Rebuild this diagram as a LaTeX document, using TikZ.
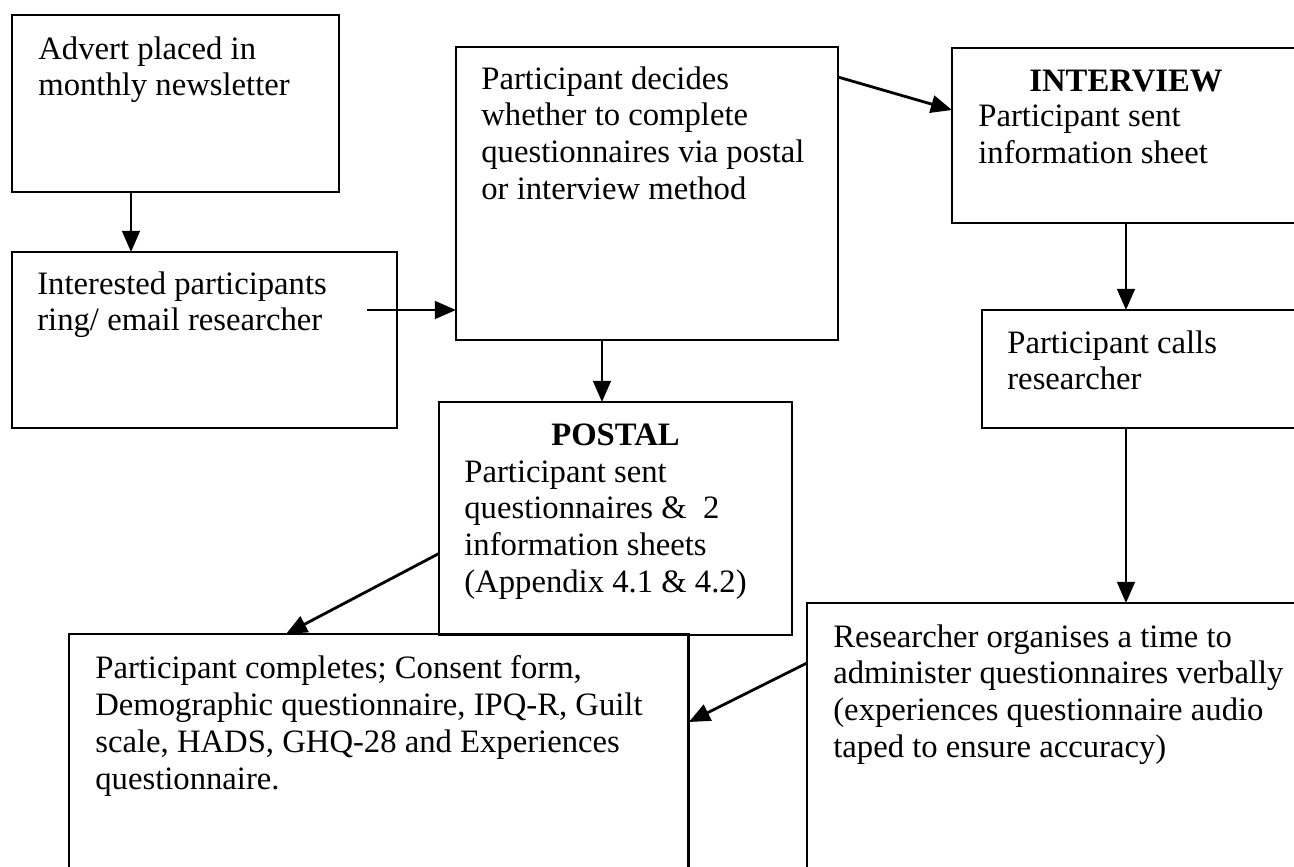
\documentclass[tikz,border=0pt]{standalone}
\usepackage{fontspec}
\setmainfont{Liberation Serif}
\usetikzlibrary{arrows.meta}
\tikzset{
    every node/.style={align=left,},
    stage/.style={draw,rectangle,line width=1.6pt,inner sep=0pt,outer sep=0pt,anchor=north west,},
    caption/.style={inner sep=0pt,anchor=north west,font=\fontsize{18.6}{21}\selectfont,},
    heading/.style={inner sep=0pt,anchor=base,font=\fontsize{18.6}{21}\selectfont\bfseries,},
    arr/.style={-{Triangle[length=12pt,width=10pt]},line width=1.6pt,},
}

\begin{document}
\begin{tikzpicture}[x=0.02cm,y=-0.02cm]
                \useasboundingbox (0,0) rectangle (1294,866);
                \clip (0,0) rectangle (1294,866);

                % boxes
                \node[stage,minimum width=6.54cm,minimum height=3.54cm] (advert) at (12,15) {};
                \node[stage,minimum width=7.70cm,minimum height=3.52cm] (ring) at (12,252) {};
                \node[stage,minimum width=7.64cm,minimum height=5.86cm] (decide) at (456,47) {};
                \node[stage,minimum width=6.96cm,minimum height=3.50cm] (interview) at (952,48) {};
                \node[stage,minimum width=6.36cm,minimum height=2.36cm] (calls) at (982,310) {};
                \node[stage,minimum width=7.06cm,minimum height=4.66cm] (postal) at (439,402) {};
                \node[stage,minimum width=12.40cm,minimum height=5.32cm] (complete) at (69,634) {};
                \node[stage,minimum width=10.06cm,minimum height=5.94cm] (organise) at (807,603) {};

                % texts
                \node[caption] (advert-txt) at ([shift={(26,21)}]advert.north west) {Advert placed in\\monthly newsletter};
                \node[caption] (ring-txt) at ([shift={(25,19)}]ring.north west) {Interested participants\\ring/ email researcher};
                \node[caption] (decide-txt) at ([shift={(25,19)}]decide.north west) {Participant decides\\whether to complete\\questionnaires via postal\\or interview method};
                \node[heading] (interview-hd) at ([shift={(0,43)}]interview.north) {INTERVIEW};
                \node[caption] (interview-txt) at ([shift={(26,57)}]interview.north west) {Participant sent\\information sheet};
                \node[caption] (calls-txt) at ([shift={(25,20)}]calls.north west) {Participant calls\\researcher};
                \node[heading] (postal-hd) at ([shift={(0,43)}]postal.north) {POSTAL};
                \node[caption] (postal-txt) at ([shift={(25,58)}]postal.north west) {Participant sent\\questionnaires \&\ \ 2\\information sheets\\(Appendix 4.1 \& 4.2)};
                \node[caption] (complete-txt) at ([shift={(26,21)}]complete.north west) {Participant completes; Consent form,\\Demographic questionnaire, IPQ-R, Guilt\\scale, HADS, GHQ-28 and Experiences\\questionnaire.};
                \node[caption] (organise-txt) at ([shift={(26,21)}]organise.north west) {Researcher organises a time to\\administer questionnaires verbally\\(experiences questionnaire audio\\taped to ensure accuracy)};

                % arrows
                \draw[arr] ([shift={(119,0)}]advert.south west) -- ([shift={(119,0)}]ring.north west);
                \draw[arr] ([shift={(-30,-30)}]ring.east) coordinate (ring-out) -- (ring-out -| decide.west);
                \draw[arr] ([shift={(-45,0)}]decide.south) coordinate (decide-out) -- (decide-out |- postal.north);
                \draw[arr] ([shift={(0,30)}]decide.north east) -- ([shift={(0,62)}]interview.north west);
                \draw[arr] (interview.south) -- (interview.south |- calls.north);
                \draw[arr] (calls.south -| interview.south) -- (organise.north -| interview.south);
                \draw[arr] ([shift={(0,35)}]postal.west) -- ([shift={(217,0)}]complete.north west);
                \draw[arr] ([shift={(0,60)}]organise.north west) -- ([shift={(0,88)}]complete.north east);
\end{tikzpicture}
\end{document}
